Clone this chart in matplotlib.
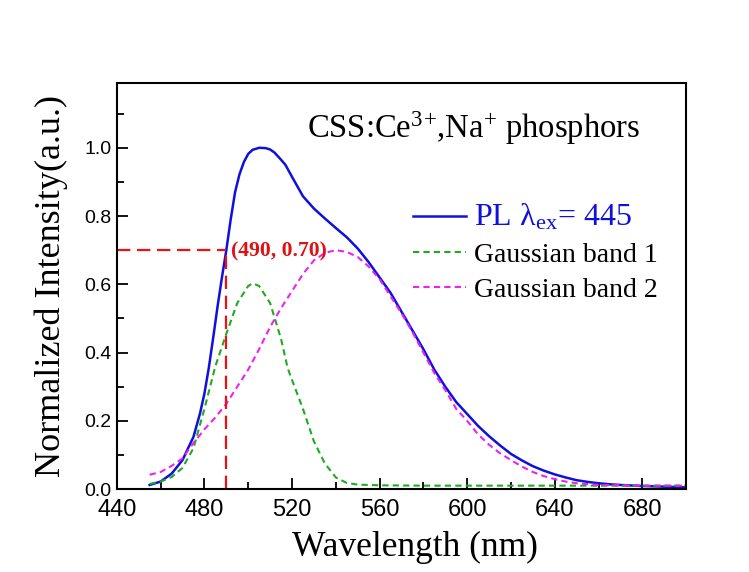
import numpy as np
from matplotlib import pyplot as plt

plt.rcParams['mathtext.fontset'] = 'custom'
plt.rcParams['mathtext.rm'] = 'Liberation Serif'
plt.rcParams['mathtext.it'] = 'Liberation Serif:italic'

# PL spectrum
wl_pl = [455, 460, 465, 470, 475, 478, 480, 482, 484, 486, 488, 490, 492, 494, 496,
         498, 500, 502, 505, 508, 510, 512, 515, 517, 520, 525, 530, 535, 540, 545,
         550, 555, 560, 565, 570, 575, 580, 585, 590, 595, 600, 605, 610, 615, 620,
         625, 630, 635, 640, 645, 650, 655, 660, 665, 670, 680, 690, 700]
pl = [0.012, 0.022, 0.045, 0.085, 0.153, 0.222, 0.28, 0.355, 0.443, 0.535, 0.62, 0.70, 0.79, 0.87, 0.922,
      0.958, 0.982, 0.994, 1.0, 0.999, 0.995, 0.986, 0.965, 0.95, 0.915, 0.858, 0.822, 0.793, 0.765, 0.738,
      0.705, 0.665, 0.62, 0.575, 0.52, 0.465, 0.41, 0.35, 0.30, 0.255, 0.22, 0.185, 0.155, 0.128, 0.103,
      0.084, 0.067, 0.054, 0.043, 0.034, 0.026, 0.021, 0.017, 0.014, 0.012, 0.009, 0.007, 0.005]

# Gaussian band 1
wl_g1 = [455, 460, 465, 470, 475, 480, 485, 490, 495, 500, 502, 505, 510, 515, 518,
         520, 525, 530, 535, 540, 545, 550, 560, 580, 620, 660, 700]
g1 = [0.015, 0.022, 0.035, 0.062, 0.12, 0.235, 0.36, 0.455, 0.545, 0.595, 0.603, 0.595, 0.545, 0.44, 0.355,
      0.32, 0.235, 0.14, 0.075, 0.034, 0.018, 0.013, 0.011, 0.01, 0.01, 0.01, 0.01]

# Gaussian band 2
wl_g2 = [455, 460, 465, 470, 475, 480, 485, 490, 495, 500, 505, 510, 515, 520, 525,
         530, 535, 540, 545, 550, 555, 560, 565, 570, 575, 580, 585, 590, 595, 600,
         605, 610, 615, 620, 625, 630, 635, 640, 645, 650, 660, 680, 700]
g2 = [0.042, 0.05, 0.068, 0.09, 0.135, 0.175, 0.21, 0.25, 0.30, 0.35, 0.41, 0.475, 0.53, 0.58, 0.63,
      0.67, 0.692, 0.70, 0.695, 0.68, 0.652, 0.615, 0.565, 0.515, 0.46, 0.40, 0.34, 0.29, 0.235, 0.20,
      0.16, 0.13, 0.105, 0.085, 0.066, 0.05, 0.038, 0.029, 0.022, 0.017, 0.012, 0.01, 0.01]

mark_x, mark_y = 490, 0.70

fig = plt.figure(figsize=(7.49, 5.72), dpi=100)
ax = fig.add_axes([0.156, 0.145, 0.76, 0.71])

ax.plot(wl_pl, pl, color='#1010dd', lw=1.8, label='PL λ$_{\\mathrm{ex}}$= 445')
ax.plot(wl_g1, g1, color='#1faa1f', lw=1.5, ls=(0, (3, 2)), label='Gaussian band 1')
ax.plot(wl_g2, g2, color='#ee22ee', lw=1.5, ls=(0, (3, 2)), label='Gaussian band 2')

# marker lines
ax.plot([440, mark_x], [mark_y, mark_y], color='#ee1111', lw=1.6, ls=(0, (6, 3)))
ax.plot([mark_x, mark_x], [0, mark_y], color='#ee1111', lw=1.6, ls=(0, (6, 3)))
ax.text(mark_x + 2, mark_y - 0.005, '(490, 0.70)', color='#dd1111', fontsize=15.6,
        fontweight='bold', family='Liberation Serif', va='center', ha='left')

ax.text(0.334, 0.889, 'CSS:Ce$^{3}$$^{+}$,Na$^{+}$ phosphors', transform=ax.transAxes,
        fontsize=23.5, family='Liberation Serif', va='center', ha='left')

leg = ax.legend(loc='upper left', bbox_to_anchor=(0.477, 0.768), frameon=False,
                prop={'family': 'Liberation Serif', 'size': 20},
                handlelength=1.9, handletextpad=0.3, labelspacing=0.35)
leg.get_texts()[0].set_color('#1010dd')
leg.get_texts()[0].set_fontsize(23)

ax.set_xlim(440, 700)
ax.set_ylim(0, 1.19)
ax.set_xticks(np.arange(440, 681, 40))
ax.set_xticks(np.arange(460, 700, 40), minor=True)
ax.set_yticks(np.arange(0, 1.01, 0.2))
ax.set_yticks(np.arange(0.1, 1.15, 0.2), minor=True)
ax.set_yticklabels(['%.1f' % v for v in np.arange(0, 1.01, 0.2)])
ax.tick_params(which='both', direction='in', top=False, right=False, width=1.3)
ax.tick_params(which='major', length=8)
ax.tick_params(which='minor', length=5)
ax.tick_params(axis='x', labelsize=17, pad=7)
ax.tick_params(axis='y', labelsize=14, pad=4)
for lab in ax.get_xticklabels() + ax.get_yticklabels():
    lab.set_family('Liberation Sans')
for s in ax.spines.values():
    s.set_linewidth(1.5)

ax.set_xlabel('Wavelength (nm)', fontsize=25.5, family='Liberation Serif')
ax.xaxis.set_label_coords(0.524, -0.103)
ax.set_ylabel('Normalized Intensity(a.u.)', fontsize=26, family='Liberation Serif')
ax.yaxis.set_label_coords(-0.086, 0.5)

plt.savefig('out.png', dpi=100)
